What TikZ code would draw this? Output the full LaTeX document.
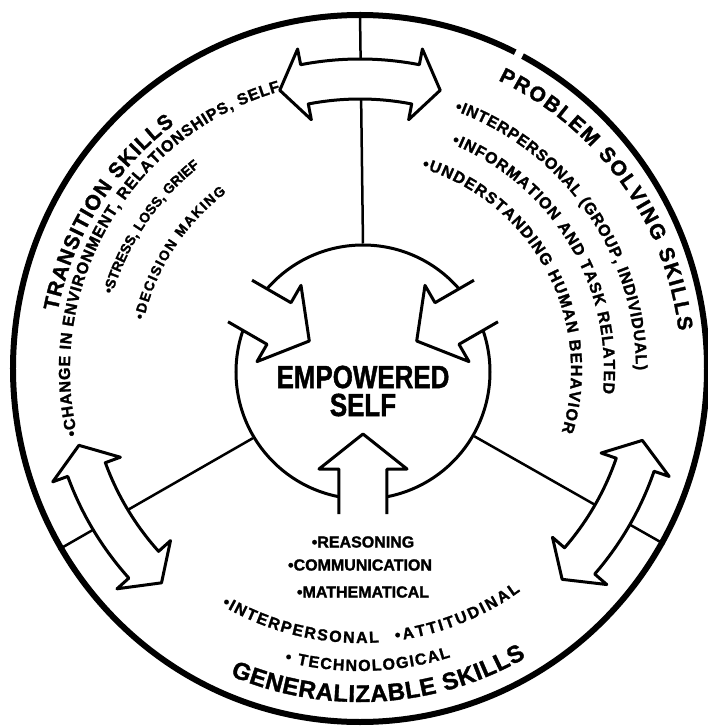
\documentclass[tikz,border=0pt]{standalone}
\usepackage{fontspec}
\setmainfont{Liberation Sans}
\newfontfamily\heavyfont{Liberation Sans}[FakeBold=1.5]
\usetikzlibrary{decorations.text,shapes.geometric}
\newcommand{\titlefont}{\heavyfont\bfseries\fontsize{21}{21}\selectfont}
\newcommand{\bigtitlefont}{\heavyfont\bfseries\fontsize{24}{24}\selectfont}
\newcommand{\itemfont}{\heavyfont\bfseries\fontsize{16}{16}\selectfont}
\newcommand{\smallitemfont}{\heavyfont\bfseries\fontsize{14}{14}\selectfont}
\tikzset{entry/.style={font=\itemfont}}
\tikzset{spoke/.style={line width=2.5pt}}
\tikzset{twohead/.style={draw,fill=white,line width=3pt,line join=round}}
\tikzset{inward/.style={draw,line width=3pt,line join=round}}
\tikzset{arctext/.style={decorate,decoration={text along path,text align=fit to path,text={#1}}}}

\begin{document}
\begin{tikzpicture}[x=1pt,y=1pt]
  \useasboundingbox (-360,-356) rectangle (348,370);
  \node[ellipse,draw,line width=6pt,minimum width=694pt,minimum height=707pt] (rim) at (0,1.5) {};
  \draw[white,line width=8pt] (63.3:340) -- (63.3:360);
  \node[circle,draw,line width=3pt,minimum size=254pt] (self) at (3,-2) {};
  \draw[spoke] (self.90) -- (rim.90);
  \draw[spoke] (self.211) -- (rim.211);
  \draw[spoke] (self.330) -- (rim.330);
  \foreach \a in {90,211,330}
    \draw[twohead] ({\a-11}:311) arc[start angle=\a-11,end angle=\a+11,radius=311]
      -- ({\a+11}:327) -- ({\a+16}:291) -- ({\a+11}:255) -- ({\a+11}:271)
      arc[start angle=\a+11,end angle=\a-11,radius=271]
      -- ({\a-11}:255) -- ({\a-16}:291) -- ({\a-11}:327) -- cycle;
  \foreach \a in {30,150,270} {
    \begin{scope}[shift={(3,-2)},rotate=\a]
      \fill[white] (142,24) -- (97,24) -- (97,44) -- (62,0) -- (97,-44) -- (97,-24) -- (142,-24) -- cycle;
      \draw[inward] (142,24) -- (97,24) -- (97,44) -- (62,0) -- (97,-44) -- (97,-24) -- (142,-24);
    \end{scope}
  }
  \node[align=center,font=\heavyfont\bfseries\fontsize{32}{28}\selectfont,xscale=0.81,transform shape] (empowered) at (3,-21) {EMPOWERED\\SELF};
  \path[arctext={|\titlefont|TRANSITION SKILLS}] (169:308) arc[start angle=169,end angle=127,radius=308];
  \path[arctext={|\itemfont|•CHANGE IN ENVIRONMENT, RELATIONSHIPS, SELF}] (193:290) arc[start angle=193,end angle=106,radius=290];
  \path[arctext={|\smallitemfont|•STRESS, LOSS, GRIEF}] (163:259) arc[start angle=163,end angle=129,radius=259];
  \path[arctext={|\smallitemfont|•DECISION MAKING}] (167:222) arc[start angle=167,end angle=127,radius=222];
  \path[arctext={|\titlefont|PROBLEM SOLVING SKILLS}] (64.5:321) arc[start angle=64.5,end angle=7,radius=321];
  \path[arctext={|\itemfont|•INTERPERSONAL (GROUP, INDIVIDUAL)}] (70:276) arc[start angle=70,end angle=0,radius=276];
  \path[arctext={|\itemfont|•INFORMATION AND TASK RELATED}] (68:244) arc[start angle=68,end angle=-5.5,radius=244];
  \path[arctext={|\itemfont|•UNDERSTANDING HUMAN BEHAVIOR}] (73:211) arc[start angle=73,end angle=-17,radius=211];
  \node[entry] (reasoning) at (3,-172) {•REASONING};
  \node[entry] (communication) at (0,-195) {•COMMUNICATION};
  \node[entry] (mathematical) at (3,-222) {•MATHEMATICAL};
  \path[arctext={|\itemfont|•INTERPERSONAL}] (239.5:273) arc[start angle=239.5,end angle=274,radius=273];
  \path[arctext={|\itemfont|•ATTITUDINAL}] (277.5:273) arc[start angle=277.5,end angle=306,radius=273];
  \path[arctext={|\itemfont|• TECHNOLOGICAL}] (255.5:301) arc[start angle=255.5,end angle=287.5,radius=301];
  \path[arctext={|\bigtitlefont|GENERALIZABLE SKILLS}] (247:332) arc[start angle=247,end angle=300,radius=332];
\end{tikzpicture}
\end{document}
